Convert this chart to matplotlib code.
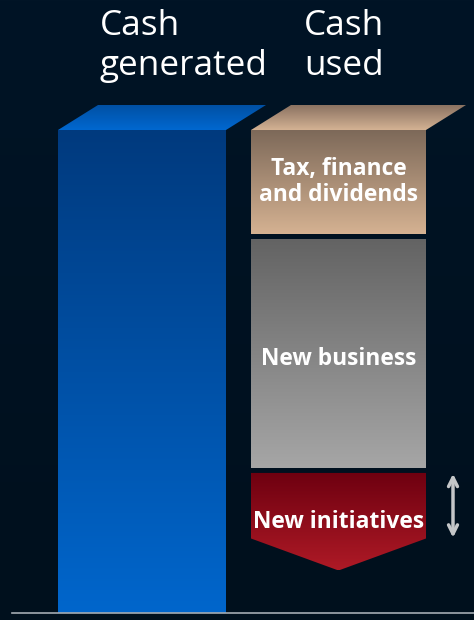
import numpy as np
import matplotlib.pyplot as plt
from matplotlib.patches import Polygon, FancyArrowPatch
from matplotlib.colors import LinearSegmentedColormap

plt.rcParams['font.family'] = ['Open Sans', 'DejaVu Sans']

# cash flow, indexed so that cash generated = 100
bar_titles = ['Cash\ngenerated', 'Cash\nused']
cash_generated = 100
used_labels = ['Tax, finance\nand dividends', 'New business', 'New initiatives']
used_values = [21.5, 47.5, 20.2]

# layout (x in pixels, y in index units)
px_per_unit = 4.83
gen_x0, gen_x1 = 58, 226
use_x0, use_x1 = 251, 426
depth_x, depth_y = 40, 25 / px_per_unit
gap = 1.0
point_depth = 32 / px_per_unit

fig = plt.figure(figsize=(4.74, 6.2), dpi=100)
ax = fig.add_axes([0, 0, 1, 1])
ax.set_axis_off()


def grad_fill(verts, c_top, c_bottom, z=2):
    poly = Polygon(verts, closed=True, facecolor='none', edgecolor='none', zorder=z)
    ax.add_patch(poly)
    xs, ys = zip(*verts)
    cmap = LinearSegmentedColormap.from_list('g', [c_bottom, c_top])
    grad = np.linspace(0, 1, 256).reshape(-1, 1)
    im = ax.imshow(grad, cmap=cmap, origin='lower', aspect='auto', zorder=z,
                   extent=(min(xs), max(xs), min(ys), max(ys)))
    im.set_clip_path(poly)
    return poly


y_bottom = -7 / px_per_unit
y_top = 613 / px_per_unit

# background
bg = np.linspace(0, 1, 256).reshape(-1, 1)
ax.imshow(bg, cmap=LinearSegmentedColormap.from_list('bg', ['#00101d', '#011426']),
          origin='lower', aspect='auto', extent=(0, 474, y_bottom, y_top), zorder=0)

# cash generated bar with its top face
grad_fill([(gen_x0, 0), (gen_x1, 0), (gen_x1, cash_generated), (gen_x0, cash_generated)],
          '#003a7e', '#0066cc')
grad_fill([(gen_x0, cash_generated), (gen_x1, cash_generated),
           (gen_x1 + depth_x, cash_generated + depth_y), (gen_x0 + depth_x, cash_generated + depth_y)],
          '#0050a4', '#0068d0')

# cash used, stacked down from the top
seg_colors = [('#7d6959', '#d5b292'), ('#636363', '#a6a6a6'), ('#6e0010', '#b8141f')]
top = cash_generated
for i, (label, val) in enumerate(zip(used_labels, used_values)):
    bot = top - val
    c_top, c_bot = seg_colors[i]
    if i == len(used_values) - 1:
        mid = (use_x0 + use_x1) / 2
        verts = [(use_x0, top), (use_x1, top), (use_x1, bot + point_depth),
                 (mid, bot), (use_x0, bot + point_depth)]
        grad_fill(verts, c_top, '#ae1a26')
        arrow = FancyArrowPatch((453, top + 0.4), (453, bot + point_depth - 0.4),
                                arrowstyle='<->', mutation_scale=16, lw=2.5,
                                color='#c4c6c8', zorder=3)
        ax.add_patch(arrow)
        ty = (top + bot) / 2
    else:
        grad_fill([(use_x0, bot), (use_x1, bot), (use_x1, top), (use_x0, top)], c_top, c_bot)
        ty = (top + bot) / 2 - (1.2 if i == 1 else 0)
    if i == 0:
        grad_fill([(use_x0, top), (use_x1, top),
                   (use_x1 + depth_x, top + depth_y), (use_x0 + depth_x, top + depth_y)],
                  '#8a7262', '#d4b293')
    ax.text((use_x0 + use_x1) / 2, ty, label, ha='center', va='center', color='white',
            fontsize=16.4, fontweight='bold', linespacing=1.1, zorder=4)
    top = bot - gap

# baseline
ax.plot([12, 474], [0, 0], color='#a4abb2', lw=1.2, zorder=3)

# column titles
fig.text(100 / 474, 1 - 9 / 620, bar_titles[0], ha='left', va='top', color='white',
         fontsize=25.3, linespacing=1.22)
fig.text(304 / 474, 1 - 9 / 620, bar_titles[1], ha='left', va='top', color='white',
         fontsize=25.3, linespacing=1.22)

ax.set_xlim(0, 474)
ax.set_ylim(y_bottom, y_top)
fig.savefig('out.png', dpi=100)
